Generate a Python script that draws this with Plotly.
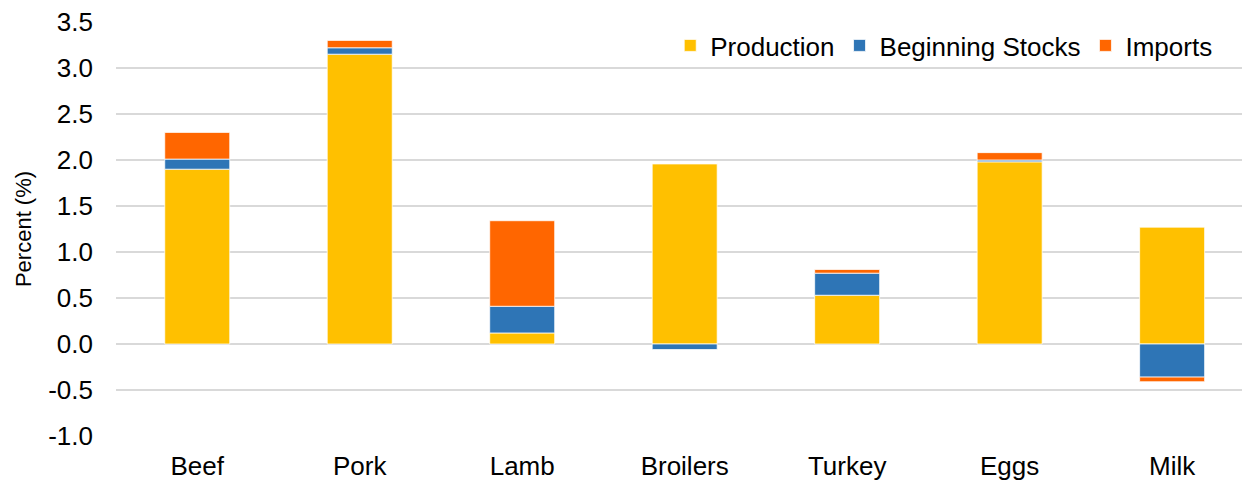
import plotly.graph_objects as go

categories = ["Beef", "Pork", "Lamb", "Broilers", "Turkey", "Eggs", "Milk"]
production = [1.90, 3.15, 0.12, 1.96, 0.53, 1.98, 1.27]
beginning_stocks = [0.11, 0.07, 0.29, -0.06, 0.24, 0.02, -0.36]
imports = [0.29, 0.08, 0.93, 0.0, 0.04, 0.08, -0.05]
y_ticks = [-1.0, -0.5, 0.0, 0.5, 1.0, 1.5, 2.0, 2.5, 3.0, 3.5]

FONT = "Liberation Sans, Arial, sans-serif"

fig = go.Figure()
for name, vals, color in [
    ("Production", production, "#FFC000"),
    ("Beginning Stocks", beginning_stocks, "#2E75B6"),
    ("Imports", imports, "#FF6600"),
]:
    fig.add_trace(go.Bar(
        x=categories, y=vals, name=name, width=0.4,
        marker=dict(color=color, line=dict(color="white", width=0.75)),
    ))

fig.update_layout(
    width=1242, height=480,
    barmode="relative",
    margin=dict(l=116, r=0, t=22, b=44, autoexpand=False),
    plot_bgcolor="white", paper_bgcolor="white",
    font=dict(family=FONT, size=26, color="#000000"),
    legend=dict(
        orientation="h", x=0.978, xanchor="right", y=1.0, yanchor="top",
        font=dict(size=26), bgcolor="rgba(0,0,0,0)",
        traceorder="normal",
    ),
    xaxis=dict(
        range=[-0.5, 6.43], showgrid=False, zeroline=False, showline=False,
        ticks="", ticklabelstandoff=12, tickfont=dict(size=26), automargin=False,
    ),
    yaxis=dict(
        range=[-1.0, 3.5], tickvals=y_ticks,
        ticktext=[f"{v:.1f}" for v in y_ticks],
        showgrid=True, gridcolor="#D9D9D9", gridwidth=1.5,
        zeroline=False, showline=False, ticks="", automargin=False,
        ticklabelstandoff=22, tickfont=dict(size=26),
        title=dict(text="Percent (%)", font=dict(size=22), standoff=10),
    ),
)

fig.write_html("out.html")
